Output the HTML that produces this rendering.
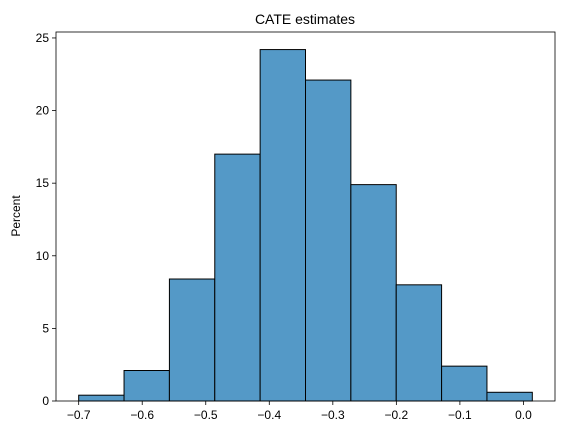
<!DOCTYPE html>
<html><head><meta charset="utf-8"><style>
body{margin:0;background:#fff;}
svg{display:block;font-family:"Liberation Sans","DejaVu Sans",sans-serif;}
</style></head><body>
<svg id="chart" width="562" height="435">
<text x="305" y="24" text-anchor="middle" font-size="14">CATE estimates</text>
<text transform="translate(20,216) rotate(-90)" text-anchor="middle" font-size="12">Percent</text>
<g id="bars"></g>
<g id="axes"></g>
</svg>
<script>
const binEdgesStart = -0.7;
const binWidth = 0.0714;
const binPercents = [0.4, 2.1, 8.4, 17.0, 24.2, 22.1, 14.9, 8.0, 2.4, 0.6];
const xTicks = [-0.7, -0.6, -0.5, -0.4, -0.3, -0.2, -0.1, 0.0];
const xTickLabels = ["−0.7","−0.6","−0.5","−0.4","−0.3","−0.2","−0.1","0.0"];
const yTicks = [0, 5, 10, 15, 20, 25];

const L=56,R=555,T=32,B=401;
const xEnd = binEdgesStart + binWidth*binPercents.length;
const xPad=(xEnd-binEdgesStart)*0.05;
const xMin=binEdgesStart-xPad,xMax=xEnd+xPad;
const yMax=Math.max(...binPercents)*1.05;
const sx=v=>L+(v-xMin)/(xMax-xMin)*(R-L);
const sy=v=>B-v/yMax*(B-T);
const NS="http://www.w3.org/2000/svg";
const bars=document.getElementById('bars'),axes=document.getElementById('axes');
function mk(tag,attrs,parent){const e=document.createElementNS(NS,tag);for(const k in attrs)e.setAttribute(k,attrs[k]);parent.appendChild(e);return e;}
binPercents.forEach((p,i)=>{
  const x0=sx(binEdgesStart+i*binWidth),x1=sx(binEdgesStart+(i+1)*binWidth);
  const r=mk('rect',{x:x0,y:sy(p),width:x1-x0,height:sy(0)-sy(p),fill:'rgb(84,153,199)',stroke:'#000','stroke-width':1},bars);
  
  
});
const frame=mk('rect',{x:L,y:T,width:R-L,height:B-T,fill:'none',stroke:'#000','stroke-width':0.8},axes);


xTicks.forEach((v,i)=>{
  const x=sx(v);
  mk('line',{x1:x,x2:x,y1:B,y2:B+4,stroke:'#000','stroke-width':0.8},axes);
  const t=mk('text',{x:x,y:B+18,'text-anchor':'middle','font-size':12},axes);
  t.textContent=xTickLabels[i];
  
  
});
yTicks.forEach(v=>{
  const y=sy(v);
  mk('line',{x1:L-4,x2:L,y1:y,y2:y,stroke:'#000','stroke-width':0.8},axes);
  const t=mk('text',{x:L-7,y:y+4,'text-anchor':'end','font-size':12},axes);
  t.textContent=v;
  
  
});
</script>
</body></html>
